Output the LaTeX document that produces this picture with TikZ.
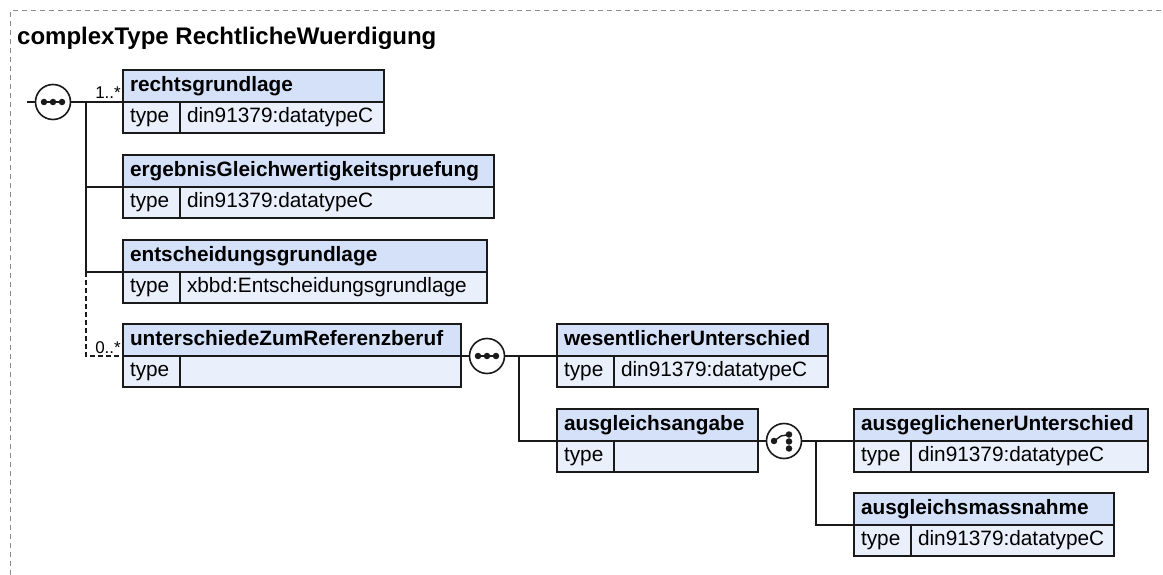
\documentclass[tikz,border=0pt]{standalone}
\usepackage{fontspec}
\setmainfont{Liberation Sans}
\usepackage{tikz}
\definecolor{headfill}{HTML}{D4E1F8}
\definecolor{rowfill}{HTML}{E9F0FC}
\definecolor{framegray}{HTML}{8C8C8C}
\definecolor{linecol}{HTML}{1A1A1A}

\begin{document}
\begin{tikzpicture}[x=1pt,y=-1pt]
        \tikzset{head/.style = {draw=linecol,fill=headfill,line width=1.6pt,anchor=north west,minimum height=32pt,inner xsep=7pt,inner ysep=0pt,outer sep=0pt,text height=15pt,text depth=4.5pt,align=left,font=\fontsize{20.8}{24}\selectfont\bfseries}}
        \tikzset{cell/.style = {head,fill=rowfill,minimum height=31pt,font=\fontsize{20.8}{24}\selectfont}}
        \tikzset{seq/.style = {shape=circle,draw=linecol,fill=white,line width=1.6pt,minimum size=35pt,inner sep=0pt,outer sep=0pt}}
        \tikzset{dot/.style = {shape=circle,fill=linecol,inner sep=0pt,minimum size=6.5pt}}
        \tikzset{edge/.style = {-,draw=linecol,line width=1.5pt}}
        \tikzset{mult/.style = {inner sep=0pt,font=\fontsize{17}{20}\selectfont}}
        \tikzset{title/.style = {inner sep=0pt,font=\fontsize{24}{28}\selectfont\bfseries}}
        \tikzset{frame/.style = {draw=framegray,line width=1pt,dash pattern=on 5pt off 4pt}}

        \useasboundingbox (0,0) rectangle (1163,575);
        \draw[frame] (10,575) -- (10,11) -- (1163,11);
        \node[title,anchor=base west] (ttl) at (17,45) {complexType RechtlicheWuerdigung};

        \node[head,text width=247pt] (rechtH) at (123,70) {rechtsgrundlage};
        \node[cell,text width=43pt] (rechtT) at (123,102) {type};
        \node[cell,text width=190pt] (rechtV) at (180,102) {din91379:datatypeC};

        \node[head,text width=357pt] (ergH) at (123,155) {ergebnisGleichwertigkeitspruefung};
        \node[cell,text width=43pt] (ergT) at (123,187) {type};
        \node[cell,text width=300pt] (ergV) at (180,187) {din91379:datatypeC};

        \node[head,text width=350pt] (entH) at (123,240) {entscheidungsgrundlage};
        \node[cell,text width=43pt] (entT) at (123,272) {type};
        \node[cell,text width=293pt] (entV) at (180,272) {xbbd:Entscheidungsgrundlage};

        \node[head,text width=324pt] (untH) at (123,324) {unterschiedeZumReferenzberuf};
        \node[cell,text width=43pt] (untT) at (123,356) {type};
        \node[cell,text width=267pt] (untV) at (180,356) {};

        \node[head,text width=257pt] (wesH) at (557,324) {wesentlicherUnterschied};
        \node[cell,text width=43pt] (wesT) at (557,356) {type};
        \node[cell,text width=200pt] (wesV) at (614,356) {din91379:datatypeC};

        \node[head,text width=187pt] (ausH) at (557,409) {ausgleichsangabe};
        \node[cell,text width=43pt] (ausT) at (557,441) {type};
        \node[cell,text width=130pt] (ausV) at (614,441) {};

        \node[head,text width=280pt] (ausgH) at (854,409) {ausgeglichenerUnterschied};
        \node[cell,text width=43pt] (ausgT) at (854,441) {type};
        \node[cell,text width=223pt] (ausgV) at (911,441) {din91379:datatypeC};

        \node[head,text width=246pt] (massH) at (854,493) {ausgleichsmassnahme};
        \node[cell,text width=43pt] (massT) at (854,525) {type};
        \node[cell,text width=189pt] (massV) at (911,525) {din91379:datatypeC};

        \coordinate (inA) at (27,102);
        \coordinate (trunkA) at (86,102);
        \node[seq] (seqA) at (53,102) {};
        \node[dot] (seqA1) at (44,102) {};
        \node[dot] (seqA2) at (53,102) {};
        \node[dot] (seqA3) at (62,102) {};
        \draw[edge,line width=1.4pt] (seqA1) to (seqA3);

        \draw[edge] (inA) to (seqA);
        \draw[edge] (seqA) to (rechtH.south west);
        \draw[edge] (trunkA) |- (ergH.south west);
        \draw[edge] (trunkA) |- (entH.south west);
        \draw[edge,dash pattern=on 5pt off 3pt] (trunkA |- entH.south west) |- (untH.south west);

        \node[mult,anchor=base east] (multA) at (121,99) {1..*};
        \node[mult,anchor=base east] (multB) at (121,353) {0..*};

        \coordinate (trunkB) at (519,356);
        \node[seq] (seqB) at (487,356) {};
        \node[dot] (seqB1) at (478,356) {};
        \node[dot] (seqB2) at (487,356) {};
        \node[dot] (seqB3) at (496,356) {};
        \draw[edge,line width=1.4pt] (seqB1) to (seqB3);

        \draw[edge] (untH.south east) to (seqB);
        \draw[edge] (seqB) to (wesH.south west);
        \draw[edge] (trunkB) |- (ausH.south west);

        \coordinate (trunkC) at (816,441);
        \node[seq] (choiceC) at (784,441) {};
        \node[dot] (choiceC1) at (774,441) {};
        \node[dot] (choiceC2) at (789,434.5) {};
        \node[dot] (choiceC3) at (789,441.5) {};
        \node[dot] (choiceC4) at (789,448.5) {};
        \coordinate (choiceCk) at (781,436);
        \draw[edge,line width=1.4pt] (choiceC1.center) -- (choiceCk) -- (choiceC2.center);

        \draw[edge] (ausH.south east) to (choiceC);
        \draw[edge] (choiceC) to (ausgH.south west);
        \draw[edge] (trunkC) |- (massH.south west);
\end{tikzpicture}
\end{document}
